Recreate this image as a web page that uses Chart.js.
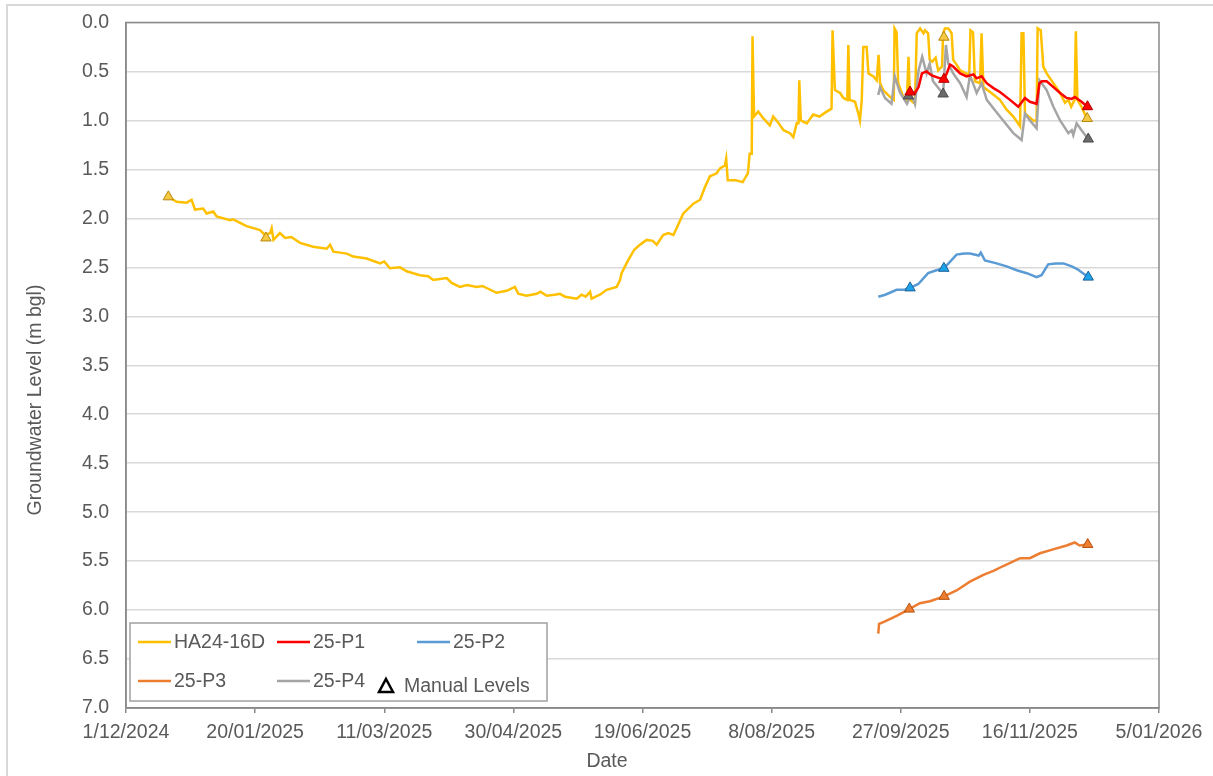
<!DOCTYPE html>
<html>
<head>
<meta charset="utf-8">
<script src="https://cdn.jsdelivr.net/npm/chart.js@4.4.1/dist/chart.umd.min.js"></script>
<style>
  html, body { margin: 0; padding: 0; background: #fff; }
  canvas { display: block; }
</style>
</head>
<body>
<canvas id="gw_chart" width="1213" height="776"></canvas>
<script>
// x values are days since 1/12/2024, y values are groundwater level in m bgl
const ha_day = [16.4, 18.3, 19.6, 23.5, 25.4, 26.7, 29.9, 31.2, 33.8, 35.1, 40.3, 41.5, 46.7, 51.9, 53.8, 55.8, 56.4, 57.1, 59.6, 61.6,
  64.0, 67.4, 72.5, 77.7, 79.0, 80.3, 85.5, 88.0, 93.2, 98.4, 100.0, 102.2, 106.1, 108.7, 113.8, 117.0, 119.0, 124.2, 126.1, 129.3,
  132.0, 135.8, 138.0, 143.5, 147.4, 150.6, 151.9, 155.1, 159.0, 160.5, 162.9, 166.0, 168.0, 170.0, 174.5, 176.4, 178.0, 179.7, 180.3, 183.5,
  186.1, 190.0, 191.3, 191.9, 194.2, 196.8, 199.0, 201.6, 204.0, 205.5, 208.0, 210.0, 212.0, 215.8, 219.7, 222.3, 224.2, 226.1, 228.7, 230.0,
  231.9, 232.4, 233.0, 236.0, 238.8, 240.8, 241.5, 242.3, 242.6, 243.2, 244.8, 246.8, 249.3, 250.6, 252.5, 254.6, 257.1, 258.4, 259.7, 260.4,
  260.7, 261.3, 263.6, 266.1, 268.5, 271.3, 273.2, 273.6, 274.5, 276.5, 277.8, 279.3, 279.7, 280.2, 282.3, 283.6, 284.2, 284.9, 285.5, 286.8,
  287.5, 289.4, 290.7, 291.4, 292.0, 293.2, 295.8, 297.3, 297.6, 298.4, 299.0, 301.0, 302.4, 303.0, 303.6, 305.5, 306.2, 307.5, 308.8, 309.4,
  310.6, 311.2, 312.2, 313.5, 314.5, 316.0, 316.4, 317.1, 318.4, 319.7, 320.3, 321.6, 323.0, 325.5, 326.5, 327.0, 328.0, 328.7, 330.7, 331.3,
  332.0, 334.6, 338.4, 341.0, 343.6, 346.2, 346.8, 347.5, 348.1, 351.3, 352.6, 353.0, 354.2, 355.2, 356.5, 359.1, 361.7, 363.6, 364.9, 366.0,
  367.3, 367.8, 368.4, 370.0, 371.5];
const ha_level = [1.78, 1.81, 1.83, 1.84, 1.81, 1.91, 1.90, 1.95, 1.93, 1.98, 2.02, 2.01, 2.08, 2.12, 2.17, 2.15, 2.10, 2.22, 2.15, 2.20,
  2.19, 2.25, 2.29, 2.31, 2.27, 2.34, 2.36, 2.39, 2.41, 2.46, 2.44, 2.51, 2.50, 2.54, 2.58, 2.59, 2.63, 2.61, 2.66, 2.70,
  2.68, 2.70, 2.69, 2.76, 2.74, 2.70, 2.77, 2.79, 2.77, 2.75, 2.79, 2.78, 2.77, 2.80, 2.82, 2.78, 2.80, 2.75, 2.82, 2.78,
  2.73, 2.70, 2.63, 2.56, 2.44, 2.32, 2.27, 2.22, 2.23, 2.27, 2.17, 2.15, 2.17, 1.95, 1.85, 1.81, 1.68, 1.57, 1.54, 1.49,
  1.46, 1.39, 1.61, 1.61, 1.63, 1.54, 1.34, 1.34, 0.14, 0.96, 0.91, 0.98, 1.05, 0.96, 1.02, 1.10, 1.13, 1.17, 1.03, 1.03,
  0.59, 1.00, 1.03, 0.94, 0.96, 0.91, 0.88, 0.08, 0.69, 0.72, 0.77, 0.79, 0.23, 0.79, 0.81, 0.93, 1.00, 0.79, 0.25, 0.25,
  0.52, 0.55, 0.59, 0.33, 0.62, 0.69, 0.76, 0.79, 0.06, 0.10, 0.62, 0.76, 0.79, 0.35, 0.79, 0.83, 0.11, 0.06, 0.11, 0.08,
  0.11, 0.38, 0.40, 0.36, 0.49, 0.45, 0.11, 0.06, 0.06, 0.11, 0.38, 0.43, 0.49, 0.52, 0.55, 0.08, 0.10, 0.60, 0.62, 0.11,
  0.66, 0.71, 0.79, 0.89, 0.96, 1.06, 0.11, 0.11, 0.93, 1.00, 1.01, 0.06, 0.08, 0.45, 0.52, 0.62, 0.72, 0.82, 0.79, 0.86,
  0.79, 0.09, 0.79, 0.86, 0.95];

const p1_day = [303.6, 305.5, 306.9, 308.2, 310.0, 312.0, 315.2, 316.7, 317.8, 319.1, 320.3, 323.0, 325.5, 328.1, 329.4, 331.3, 333.3, 335.9, 338.4, 342.3,
  345.5, 348.1, 350.0, 352.6, 353.7, 354.7, 356.5, 359.1, 361.7, 364.2, 366.2, 367.4, 370.0, 372.3];
const p1_level = [0.71, 0.72, 0.66, 0.52, 0.50, 0.54, 0.57, 0.58, 0.52, 0.43, 0.45, 0.52, 0.55, 0.53, 0.57, 0.55, 0.62, 0.67, 0.71, 0.79,
  0.86, 0.77, 0.81, 0.83, 0.62, 0.60, 0.60, 0.66, 0.72, 0.77, 0.78, 0.76, 0.81, 0.86];

const p2_day = [291.3, 294.0, 298.4, 301.0, 303.6, 306.8, 310.6, 313.8, 316.7, 318.5, 321.6, 324.5, 326.8, 330.2, 331.0, 332.6, 337.1, 341.0, 344.9, 348.8,
  352.6, 354.5, 357.1, 360.0, 363.0, 366.2, 368.5, 370.0, 372.6];
const p2_level = [2.80, 2.78, 2.73, 2.73, 2.71, 2.67, 2.56, 2.53, 2.51, 2.46, 2.37, 2.36, 2.36, 2.38, 2.35, 2.43, 2.46, 2.49, 2.53, 2.56,
  2.60, 2.58, 2.47, 2.46, 2.46, 2.49, 2.52, 2.55, 2.60];

const p3_day = [291.3, 291.6, 293.5, 298.4, 303.3, 307.4, 311.3, 316.8, 321.6, 326.8, 332.0, 335.9, 339.7, 346.2, 350.0, 353.9, 359.0, 364.2, 367.4, 369.2, 372.4];
const p3_level = [6.24, 6.14, 6.12, 6.06, 5.99, 5.93, 5.91, 5.86, 5.80, 5.71, 5.64, 5.60, 5.55, 5.47, 5.47, 5.42, 5.38, 5.34, 5.31, 5.34, 5.33];

const p4_day = [291.3, 292.0, 293.9, 296.4, 297.7, 299.6, 302.4, 303.6, 305.0, 305.5, 306.9, 308.3, 310.0, 311.2, 312.5, 315.2, 316.4, 317.5, 318.4, 320.3,
  323.0, 325.5, 326.8, 329.4, 331.3, 333.3, 338.4, 343.6, 346.8, 348.1, 350.0, 352.6, 353.7, 356.5, 359.1, 361.7, 364.9, 366.2, 366.8, 368.1,
  370.0, 372.6];
const p4_level = [0.74, 0.66, 0.77, 0.83, 0.55, 0.71, 0.83, 0.76, 0.79, 0.83, 0.49, 0.35, 0.52, 0.42, 0.60, 0.69, 0.73, 0.23, 0.42, 0.52,
  0.62, 0.76, 0.54, 0.72, 0.62, 0.79, 0.96, 1.13, 1.20, 0.93, 1.00, 1.08, 0.59, 0.69, 0.86, 1.00, 1.13, 1.10, 1.15, 1.03,
  1.10, 1.19];

// manual dips
const ha_manual_day = [16.4, 54.2, 316.7, 372.2];
const ha_manual_level = [1.78, 2.20, 0.15, 0.98];
const p1_manual_day = [303.6, 316.7, 372.3];
const p1_manual_level = [0.71, 0.58, 0.86];
const p2_manual_day = [303.6, 316.7, 372.6];
const p2_manual_level = [2.71, 2.51, 2.60];
const p3_manual_day = [303.3, 316.8, 372.4];
const p3_manual_level = [5.99, 5.86, 5.33];
const p4_manual_day = [303.0, 316.4, 372.6];
const p4_manual_level = [0.75, 0.73, 1.19];

const x_ticks = [0, 50, 100, 150, 200, 250, 300, 350, 400];
const y_ticks = [0, 0.5, 1, 1.5, 2, 2.5, 3, 3.5, 4, 4.5, 5, 5.5, 6, 6.5, 7];

const font_family = '"Liberation Sans", Arial, sans-serif';
const text_col = '#595959';

function pts(days, levels) {
  return days.map((d, i) => ({ x: d, y: levels[i] }));
}

function dayLabel(v) {
  const d = new Date(Date.UTC(2024, 11, 1) + v * 86400000);
  return d.getUTCDate() + '/' + String(d.getUTCMonth() + 1).padStart(2, '0') + '/' + d.getUTCFullYear();
}

function lineSet(label, days, levels, colour, order) {
  return {
    label: label,
    data: pts(days, levels),
    borderColor: colour,
    backgroundColor: colour,
    borderWidth: 2.5,
    pointRadius: 0,
    pointHitRadius: 0,
    tension: 0,
    fill: false,
    order: order
  };
}

function manualSet(days, levels, fill, edge) {
  return {
    label: 'Manual Levels',
    data: pts(days, levels),
    showLine: false,
    pointStyle: 'triangle',
    pointRadius: 6,
    pointBackgroundColor: fill,
    pointBorderColor: edge,
    pointBorderWidth: 1,
    order: 0
  };
}

const datasets = [
  lineSet('HA24-16D', ha_day, ha_level, '#ffc000', 6),
  lineSet('25-P1', p1_day, p1_level, '#ff0000', 2),
  lineSet('25-P2', p2_day, p2_level, '#5b9bd5', 3),
  lineSet('25-P3', p3_day, p3_level, '#ed7d31', 4),
  lineSet('25-P4', p4_day, p4_level, '#a5a5a5', 5),
  manualSet(ha_manual_day, ha_manual_level, '#f5c842', '#b8860b'),
  manualSet(p1_manual_day, p1_manual_level, '#ff0000', '#b00000'),
  manualSet(p2_manual_day, p2_manual_level, '#1aa3e8', '#1f5f99'),
  manualSet(p3_manual_day, p3_manual_level, '#ed7d31', '#b5520f'),
  manualSet(p4_manual_day, p4_manual_level, '#6b6b6b', '#4a4a4a')
];

// frame, titles and legend box drawn like the Excel original
const framePlugin = {
  id: 'frame',
  beforeDraw(chart) {
    const c = chart.ctx;
    c.save();
    c.fillStyle = '#ffffff';
    c.fillRect(0, 0, chart.width, chart.height);
    c.strokeStyle = '#d9d9d9';
    c.lineWidth = 2;
    c.strokeRect(7, 5, 1240, 800);
    c.restore();
  },
  afterDraw(chart) {
    const c = chart.ctx;
    const ca = chart.chartArea;
    c.save();
    c.strokeStyle = '#898989';
    c.lineWidth = 1.5;
    c.strokeRect(ca.left, ca.top, ca.right - ca.left, ca.bottom - ca.top);

    c.fillStyle = text_col;
    c.font = '19.5px ' + font_family;
    c.textAlign = 'center';
    c.textBaseline = 'middle';
    c.fillText('Date', 607, 762);
    c.save();
    c.translate(36, 400);
    c.rotate(-Math.PI / 2);
    c.fillText('Groundwater Level (m bgl)', 0, 0);
    c.restore();

    // legend
    const bx = ca.left + 4, by = ca.bottom - 85, bw = 417, bh = 78;
    c.fillStyle = '#ffffff';
    c.fillRect(bx, by, bw, bh);
    c.strokeStyle = '#a0a0a0';
    c.lineWidth = 1.5;
    c.strokeRect(bx, by, bw, bh);

    const cols = [8, 147, 287];
    const rows = [19, 58];
    const items = datasets.filter(d => d.label !== 'Manual Levels');
    c.textAlign = 'left';
    c.font = '19.5px ' + font_family;
    items.forEach((d, i) => {
      const lx = bx + cols[i % 3];
      const ly = by + rows[Math.floor(i / 3)];
      c.strokeStyle = d.borderColor;
      c.lineWidth = 2.5;
      c.beginPath();
      c.moveTo(lx, ly);
      c.lineTo(lx + 33, ly);
      c.stroke();
      c.fillStyle = text_col;
      c.fillText(d.label, lx + 36, ly + 1);
    });
    // manual level symbol
    const tx = bx + 256, ty = by + 63;
    c.beginPath();
    c.moveTo(tx, ty - 7);
    c.lineTo(tx + 7, ty + 6);
    c.lineTo(tx - 7, ty + 6);
    c.closePath();
    c.fillStyle = '#ffffff';
    c.fill();
    c.strokeStyle = '#000000';
    c.lineWidth = 2.5;
    c.stroke();
    c.fillStyle = text_col;
    c.fillText('Manual Levels', bx + 274, ty + 1);
    c.restore();
  }
};

let ctx = document.getElementById('gw_chart').getContext('2d');
let gw_chart = new Chart(ctx, {
  type: 'line',
  data: { datasets: datasets },
  plugins: [framePlugin],
  options: {
    responsive: false,
    animation: false,
    events: [],
    layout: { padding: { top: 22.5, right: 54, left: 0, bottom: 0 } },
    font: { family: font_family },
    plugins: {
      legend: { display: false },
      tooltip: { enabled: false }
    },
    scales: {
      x: {
        type: 'linear',
        min: 0,
        max: 400,
        afterBuildTicks: s => { s.ticks = x_ticks.map(v => ({ value: v })); },
        afterFit: s => { s.height = 68; s.paddingLeft = 0; s.paddingRight = 0; },
        grid: { drawOnChartArea: false, drawTicks: true, tickLength: 5, color: '#898989', lineWidth: 1.5 },
        border: { display: true, color: '#898989', width: 1.5 },
        ticks: {
          color: text_col,
          font: { family: font_family, size: 19.5 },
          padding: 8,
          maxRotation: 0,
          autoSkip: false,
          callback: v => dayLabel(v)
        }
      },
      y: {
        type: 'linear',
        reverse: true,
        min: 0,
        max: 7,
        afterBuildTicks: s => { s.ticks = y_ticks.map(v => ({ value: v })); },
        afterFit: s => { s.width = 126; s.paddingTop = 0; s.paddingBottom = 0; },
        grid: { color: '#d9d9d9', lineWidth: 1.5, drawTicks: false },
        border: { display: true, color: '#898989', width: 1.5 },
        ticks: {
          color: text_col,
          font: { family: font_family, size: 19.5 },
          padding: 17,
          autoSkip: false,
          callback: v => v.toFixed(1)
        }
      }
    }
  }
});
</script>
</body>
</html>
